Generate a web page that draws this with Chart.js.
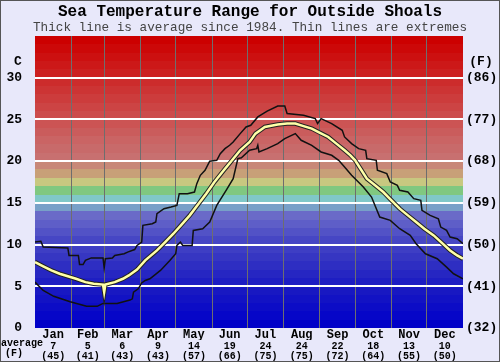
<!DOCTYPE html>
<html>
<head>
<meta charset="utf-8">
<script src="https://cdn.jsdelivr.net/npm/chart.js@4.4.1/dist/chart.umd.min.js"></script>
<style>
  html, body { margin: 0; padding: 0; background: #e8e8fa; }
  #chart { display: block; }
</style>
</head>
<body>
<canvas id="chart" width="500" height="362"></canvas>
<script>
// Sea temperature range chart, x is day of year, y is degrees C
const months = ['Jan', 'Feb', 'Mar', 'Apr', 'May', 'Jun', 'Jul', 'Aug', 'Sep', 'Oct', 'Nov', 'Dec'];
const monthStarts = [0, 31, 59, 90, 120, 151, 181, 212, 243, 273, 304, 334, 365];
const avgC = [7, 5, 6, 9, 14, 19, 24, 24, 22, 18, 13, 10];
const avgF = [45, 41, 43, 43, 57, 66, 75, 75, 72, 64, 55, 50];
const yTicks = [0, 5, 10, 15, 20, 25, 30];

const maxDays = [0, 5, 7, 28, 29, 37, 38, 41, 43, 48, 58, 59, 60, 66, 68, 76, 79, 85, 87, 91, 92, 100, 103, 104, 110, 116, 121, 123, 130, 136, 138, 141, 145, 149, 155, 158, 162, 166, 169, 175, 180, 184, 190, 198, 207, 213, 215, 229, 239, 241, 244, 253, 262, 264, 270, 276, 282, 283, 291, 292, 300, 303, 309, 311, 318, 323, 329, 330, 337, 344, 346, 351, 354, 360, 365];
const maxTemps = [10.3, 10.4, 9.7, 9.6, 8.7, 8.7, 7.6, 7.6, 8.1, 8.4, 8.4, 7.2, 8.3, 8.4, 8.7, 8.9, 9.1, 9.4, 9.9, 10.3, 12.3, 12.5, 12.7, 13.7, 14.3, 14.5, 14.7, 16.1, 16.1, 16.3, 17.3, 18.3, 18.9, 20.0, 20.1, 20.9, 21.5, 21.9, 22.3, 23.3, 24.1, 24.3, 25.3, 26.0, 26.6, 26.6, 25.7, 25.5, 25.1, 24.5, 25.1, 24.5, 23.7, 22.9, 22.1, 21.5, 21.3, 20.3, 20.1, 18.9, 18.5, 17.5, 17.1, 16.5, 16.3, 15.5, 15.3, 14.1, 13.5, 13.1, 12.1, 11.7, 10.9, 10.7, 10.1];

const avgDays = [0, 7, 14, 21, 28, 35, 43, 50, 58, 59, 60, 68, 75, 80, 87, 94, 104, 111, 118, 125, 132, 139, 146, 153, 161, 168, 175, 183, 188, 196, 207, 215, 222, 229, 236, 243, 250, 257, 264, 269, 273, 278, 283, 290, 297, 304, 311, 318, 325, 332, 340, 347, 354, 360, 365];
const avgTemps = [7.9, 7.4, 6.9, 6.5, 6.2, 5.9, 5.5, 5.3, 5.2, 4.3, 5.2, 5.5, 5.9, 6.3, 7.0, 8.1, 9.3, 10.3, 11.3, 12.4, 13.5, 14.8, 16.1, 17.5, 18.9, 20.1, 21.3, 22.3, 23.3, 24.1, 24.4, 24.5, 24.5, 24.2, 23.9, 23.4, 22.9, 22.1, 21.3, 20.7, 20.1, 19.0, 17.9, 17.1, 16.3, 15.3, 14.3, 13.5, 12.7, 11.9, 11.1, 10.2, 9.3, 8.7, 8.3];

const minDays = [0, 7, 16, 30, 44, 53, 58, 70, 81, 83, 84, 88, 91, 94, 98, 107, 115, 120, 121, 124, 126, 134, 135, 143, 149, 155, 163, 169, 173, 176, 183, 189, 190, 191, 198, 207, 213, 222, 227, 236, 244, 253, 259, 264, 270, 280, 287, 294, 303, 311, 320, 325, 333, 343, 351, 357, 365];
const minTemps = [5.5, 4.5, 3.8, 3.15, 2.6, 2.6, 2.95, 2.95, 3.35, 3.5, 4.3, 4.7, 5.4, 5.7, 5.9, 6.9, 8.1, 8.9, 9.9, 10.3, 9.9, 9.9, 11.7, 11.9, 12.7, 14.7, 16.5, 17.9, 20.3, 20.4, 21.3, 21.5, 21.9, 21.1, 21.5, 22.1, 22.7, 23.3, 22.5, 21.9, 21.1, 20.7, 20.1, 19.3, 18.3, 16.9, 15.7, 13.3, 12.9, 11.9, 11.1, 10.1, 8.9, 8.3, 7.3, 6.5, 5.9];

// one colour per degree band, 0-1 at the bottom up to 34-35
const bandColors = [
  '#0000c8', '#0606c8', '#0c0cc6', '#1212c4', '#1818c2', '#1e1ec2', '#2626c2', '#2e2ec2', '#3636c2', '#3e3ec4',
  '#4646c4', '#5252c6', '#5e5ec8', '#6a6ac8', '#78a0c8', '#80c8c8', '#80c880', '#c8c880', '#c8a078', '#c88878',
  '#c87070', '#c86a6a', '#ca6464', '#ca5c5c', '#cc5454', '#cc4c4c', '#cc4444', '#cc3c3c', '#cc3434', '#cc2c2c',
  '#cc2020', '#cc1818', '#cc1010', '#cc0808', '#cc0000'
];

const MONO = '"Liberation Mono", "Courier New", monospace';
const ctx = document.getElementById('chart').getContext('2d');

const toPoints = (days, temps) => days.map((d, i) => ({ x: d, y: temps[i] }));
const midMonths = months.map((m, i) => (monthStarts[i] + monthStarts[i + 1]) / 2);

const backdrop = {
  id: 'backdrop',
  beforeDraw(chart) {
    const { ctx, chartArea: a, scales: { y } } = chart;
    ctx.save();
    ctx.fillStyle = '#e8e8fa';
    ctx.fillRect(0, 0, chart.width, chart.height);
    bandColors.forEach((c, i) => {
      const top = Math.round(y.getPixelForValue(i + 1));
      const bottom = Math.round(y.getPixelForValue(i));
      ctx.fillStyle = c;
      ctx.fillRect(a.left, top, a.right - a.left, bottom - top);
    });
    ctx.restore();
  },
  afterDraw(chart) {
    const c = chart.ctx;
    c.save();
    c.fillStyle = '#000';
    c.textAlign = 'center';
    c.textBaseline = 'middle';
    c.font = 'bold 13px ' + MONO;
    c.fillText('C', 18, 62);
    c.fillText('(F)', 481, 62);
    c.font = 'bold 10px ' + MONO;
    c.fillText('average', 22, 343);
    c.fillText('(F)', 14, 353);
    c.strokeStyle = '#555';
    c.lineWidth = 1;
    c.strokeRect(0.5, 0.5, chart.width - 1, chart.height - 1);
    c.restore();
  }
};

const bottomAxis = (weight, height, font, labelFn) => ({
  type: 'linear',
  position: 'bottom',
  min: 0,
  max: 365,
  weight: weight,
  afterBuildTicks: s => { s.ticks = midMonths.map(v => ({ value: v })); },
  afterFit: s => { s.height = height; },
  grid: { display: false, drawTicks: false },
  border: { display: false },
  ticks: { autoSkip: false, maxRotation: 0, color: '#000', font: font, padding: 1, callback: labelFn }
});

new Chart(ctx, {
  type: 'line',
  data: {
    datasets: [
      { data: toPoints(avgDays, avgTemps), borderColor: '#ffffa8', borderWidth: 2.5, order: 0 },
      { data: toPoints(avgDays, avgTemps), borderColor: '#222', borderWidth: 4.5, order: 1 },
      { data: toPoints(maxDays, maxTemps), borderColor: '#111', borderWidth: 1.5, order: 2 },
      { data: toPoints(minDays, minTemps), borderColor: '#111', borderWidth: 1.5, order: 2 }
    ]
  },
  options: {
    responsive: false,
    animation: false,
    devicePixelRatio: 1,
    elements: { point: { radius: 0 }, line: { tension: 0 } },
    layout: { padding: 0 },
    plugins: {
      legend: { display: false },
      tooltip: { enabled: false },
      title: {
        display: true,
        text: 'Sea Temperature Range for Outside Shoals',
        color: '#000',
        font: { family: MONO, size: 16, weight: 'bold', lineHeight: 1 },
        padding: { top: 4, bottom: 0 }
      },
      subtitle: {
        display: true,
        text: 'Thick line is average since 1984. Thin lines are extremes',
        color: '#444',
        font: { family: MONO, size: 12.7, lineHeight: 1 },
        padding: { top: 1, bottom: 2.3 }
      }
    },
    scales: {
      x: {
        type: 'linear',
        min: 0,
        max: 365,
        afterBuildTicks: s => { s.ticks = monthStarts.slice(1, 12).map(v => ({ value: v })); },
        afterFit: s => { s.height = 0; },
        ticks: { display: false },
        grid: { color: '#6e6e6e', lineWidth: 1, drawTicks: false },
        border: { display: false }
      },
      xMonth: bottomAxis(1, 12, { family: MONO, size: 12, weight: 'bold', lineHeight: 1 }, (v, i) => months[i]),
      xAvg: bottomAxis(2, 22, { family: MONO, size: 10, weight: 'bold', lineHeight: 1 }, (v, i) => [String(avgC[i]), '(' + avgF[i] + ')']),
      y: {
        min: 0,
        max: 35,
        afterBuildTicks: s => { s.ticks = yTicks.map(v => ({ value: v })); },
        afterFit: s => { s.width = 35; },
        ticks: { color: '#000', font: { family: MONO, size: 13, weight: 'bold' }, padding: 13 },
        grid: { color: c => (c.tick && c.tick.value === 0 ? 'rgba(0,0,0,0)' : '#ffffff'), lineWidth: 2, drawTicks: false },
        border: { display: false }
      },
      y2: {
        position: 'right',
        min: 0,
        max: 35,
        afterBuildTicks: s => { s.ticks = yTicks.map(v => ({ value: v })); },
        afterFit: s => { s.width = 37; },
        ticks: { color: '#000', font: { family: MONO, size: 13, weight: 'bold' }, padding: 3, callback: v => '(' + Math.round(v * 9 / 5 + 32) + ')' },
        grid: { display: false, drawTicks: false },
        border: { display: false }
      }
    }
  },
  plugins: [backdrop]
});
</script>
</body>
</html>
